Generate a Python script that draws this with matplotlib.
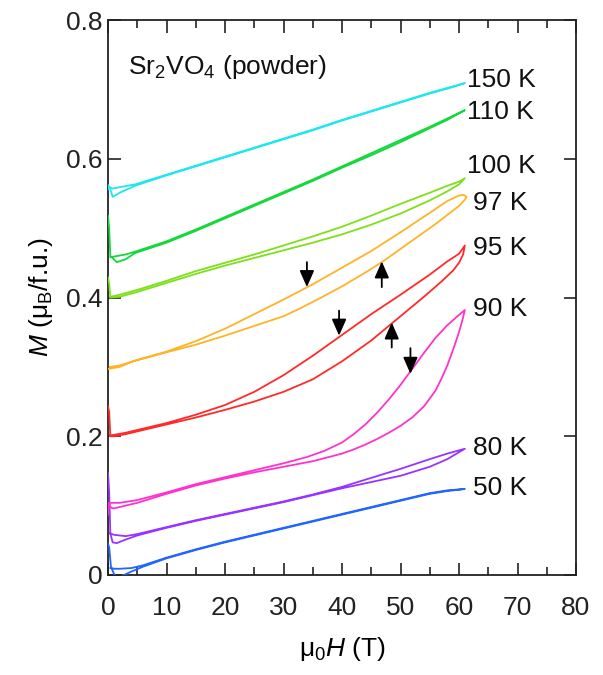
import matplotlib
matplotlib.use("Agg")
import matplotlib.pyplot as plt

plt.rcParams['font.family'] = ['Liberation Sans', 'DejaVu Sans']
plt.rcParams['mathtext.fontset'] = 'custom'
plt.rcParams['mathtext.rm'] = 'Liberation Sans'
plt.rcParams['mathtext.it'] = 'Liberation Sans:italic'

# ---------------- data ----------------
H_up_50 = [0, 0.2, 0.5, 1.0, 1.5, 2.5, 4, 6, 10, 15, 20, 25, 30, 35, 40, 45, 50, 55, 58, 61]
M_up_50 = [0.045, 0.040, 0.012, 0.002, -0.003, -0.001, 0.005, 0.012, 0.024, 0.036, 0.047, 0.057, 0.067, 0.077, 0.087, 0.097, 0.107, 0.117, 0.121, 0.124]
H_dn_50 = [61, 58, 55, 50, 45, 40, 35, 30, 25, 20, 15, 10, 6, 4, 2, 1, 0.4]
M_dn_50 = [0.124, 0.122, 0.118, 0.108, 0.098, 0.088, 0.078, 0.068, 0.058, 0.048, 0.037, 0.025, 0.014, 0.010, 0.009, 0.009, 0.010]

H_up_80 = [0, 0.2, 0.4, 0.8, 1.5, 3, 5, 10, 15, 20, 25, 30, 35, 40, 45, 50, 55, 58, 61]
M_up_80 = [0.147, 0.120, 0.060, 0.047, 0.046, 0.051, 0.057, 0.068, 0.078, 0.087, 0.096, 0.105, 0.115, 0.125, 0.134, 0.143, 0.156, 0.167, 0.182]
H_dn_80 = [61, 58, 55, 50, 45, 40, 35, 30, 25, 20, 15, 10, 5, 3, 1, 0.3]
M_dn_80 = [0.182, 0.175, 0.167, 0.153, 0.140, 0.127, 0.116, 0.106, 0.097, 0.088, 0.079, 0.069, 0.059, 0.056, 0.058, 0.060]

H_up_90 = [0, 0.15, 0.5, 1, 3, 5, 10, 15, 20, 25, 30, 35, 40, 42, 44, 46, 48, 50, 52, 54, 56, 57, 58, 59, 60, 60.6, 61]
M_up_90 = [0.087, 0.104, 0.097, 0.096, 0.100, 0.104, 0.117, 0.129, 0.139, 0.148, 0.156, 0.164, 0.175, 0.181, 0.188, 0.196, 0.205, 0.215, 0.227, 0.243, 0.266, 0.283, 0.302, 0.325, 0.350, 0.368, 0.382]
H_dn_90 = [61, 60, 58, 56, 54, 52, 50, 48, 46, 44, 42, 40, 37, 34, 30, 25, 20, 15, 10, 5, 2, 0.3]
M_dn_90 = [0.382, 0.375, 0.360, 0.342, 0.320, 0.297, 0.274, 0.253, 0.234, 0.217, 0.203, 0.191, 0.179, 0.170, 0.161, 0.151, 0.141, 0.131, 0.119, 0.108, 0.104, 0.104]

H_up_95 = [0, 0.2, 0.4, 1, 3, 5, 10, 15, 20, 25, 30, 35, 40, 45, 48, 51, 54, 57, 59, 60, 60.7, 61]
M_up_95 = [0.243, 0.235, 0.200, 0.200, 0.203, 0.207, 0.217, 0.227, 0.238, 0.250, 0.264, 0.282, 0.308, 0.338, 0.359, 0.380, 0.401, 0.423, 0.439, 0.450, 0.462, 0.475]
H_dn_95 = [61, 60, 58, 55, 50, 45, 40, 35, 30, 25, 20, 15, 10, 5, 3, 1, 0.3]
M_dn_95 = [0.475, 0.463, 0.452, 0.433, 0.404, 0.376, 0.346, 0.316, 0.288, 0.264, 0.245, 0.231, 0.219, 0.209, 0.205, 0.202, 0.201]

H_up_97 = [0, 2, 4.3, 10, 15, 20, 25, 30, 33, 36, 40, 44, 47, 50, 53, 56, 58, 60, 61]
M_up_97 = [0.297, 0.300, 0.308, 0.321, 0.332, 0.345, 0.359, 0.373, 0.385, 0.398, 0.416, 0.436, 0.452, 0.470, 0.488, 0.506, 0.519, 0.532, 0.541]
H_dn_97 = [61, 61.3, 60.8, 60, 58, 55, 50, 45, 40, 35, 30, 25, 20, 15, 10, 5, 2, 0.3]
M_dn_97 = [0.541, 0.545, 0.548, 0.547, 0.539, 0.522, 0.494, 0.467, 0.443, 0.419, 0.397, 0.376, 0.355, 0.337, 0.322, 0.310, 0.302, 0.300]

H_up_100 = [0, 0.2, 0.4, 2, 5, 10, 15, 20, 25, 30, 35, 40, 45, 50, 55, 58, 60, 61]
M_up_100 = [0.429, 0.420, 0.400, 0.401, 0.408, 0.421, 0.434, 0.446, 0.457, 0.468, 0.479, 0.491, 0.505, 0.521, 0.540, 0.553, 0.563, 0.572]
H_dn_100 = [61, 60, 58, 55, 50, 45, 40, 35, 30, 25, 20, 15, 10, 5, 2, 0.4]
M_dn_100 = [0.572, 0.567, 0.561, 0.551, 0.535, 0.518, 0.502, 0.488, 0.475, 0.462, 0.450, 0.438, 0.424, 0.411, 0.404, 0.401]

H_up_110 = [0, 0.2, 0.4, 1.5, 3, 4.6, 10, 15, 20, 25, 30, 35, 40, 45, 50, 55, 58, 61]
M_up_110 = [0.518, 0.500, 0.460, 0.451, 0.455, 0.464, 0.479, 0.496, 0.514, 0.532, 0.550, 0.568, 0.587, 0.605, 0.624, 0.644, 0.656, 0.670]
H_dn_110 = [61, 58, 55, 50, 45, 40, 35, 30, 25, 20, 15, 10, 4.6, 3, 1, 0.4]
M_dn_110 = [0.670, 0.658, 0.646, 0.627, 0.608, 0.589, 0.570, 0.552, 0.534, 0.516, 0.498, 0.481, 0.466, 0.462, 0.459, 0.458]

H_up_150 = [0, 0.4, 0.8, 2, 4.6, 10, 15, 20, 25, 30, 35, 40, 45, 50, 55, 58, 61]
M_up_150 = [0.562, 0.556, 0.545, 0.551, 0.561, 0.576, 0.589, 0.602, 0.615, 0.628, 0.641, 0.655, 0.668, 0.681, 0.694, 0.701, 0.709]
H_dn_150 = [61, 58, 55, 50, 45, 40, 35, 30, 25, 20, 15, 10, 4.6, 2, 0.8, 0.3, 0]
M_dn_150 = [0.709, 0.702, 0.695, 0.682, 0.669, 0.656, 0.642, 0.629, 0.616, 0.603, 0.590, 0.577, 0.563, 0.559, 0.557, 0.559, 0.556]

temperatures = ["50 K", "80 K", "90 K", "95 K", "97 K", "100 K", "110 K", "150 K"]
colors = ["#2266ff", "#9933ff", "#ff33cc", "#ff2a2a", "#ffb326", "#7ee01a", "#14d83c", "#20e6f0"]
label_H = [62.4, 62.4, 62.4, 62.4, 62.4, 61.4, 61.4, 61.4]
label_M = [0.125, 0.183, 0.384, 0.472, 0.536, 0.590, 0.668, 0.714]

# arrows: (H, M tail, M tip)
arrow_H = [34.0, 46.8, 39.5, 48.5, 51.7]
arrow_tail = [0.451, 0.415, 0.381, 0.328, 0.327]
arrow_tip = [0.415, 0.452, 0.345, 0.364, 0.290]

x_ticks = [0, 10, 20, 30, 40, 50, 60, 70, 80]
y_ticks = [0, 0.2, 0.4, 0.6, 0.8]
y_ticklabels = ["0", "0.2", "0.4", "0.6", "0.8"]

branches = [
    (H_up_50, M_up_50, H_dn_50, M_dn_50),
    (H_up_80, M_up_80, H_dn_80, M_dn_80),
    (H_up_90, M_up_90, H_dn_90, M_dn_90),
    (H_up_95, M_up_95, H_dn_95, M_dn_95),
    (H_up_97, M_up_97, H_dn_97, M_dn_97),
    (H_up_100, M_up_100, H_dn_100, M_dn_100),
    (H_up_110, M_up_110, H_dn_110, M_dn_110),
    (H_up_150, M_up_150, H_dn_150, M_dn_150),
]

# ---------------- figure ----------------
fig = plt.figure(figsize=(6.03, 6.75), dpi=100)
ax = fig.add_axes([108 / 603, 1 - 575 / 675, (576 - 108) / 603, (575 - 20) / 675])

for (hu, mu, hd, md), c in zip(branches, colors):
    ax.plot(hu + hd, mu + md, color=c, lw=1.3, solid_joinstyle='round', zorder=3)

for t, c, lh, lm in zip(temperatures, colors, label_H, label_M):
    ax.text(lh, lm, t, fontsize=19, va='center', ha='left', color='#111111')

for h, m0, m1 in zip(arrow_H, arrow_tail, arrow_tip):
    ax.annotate('', xy=(h, m1), xytext=(h, m0),
                arrowprops=dict(arrowstyle='-|>,head_length=0.5,head_width=0.22',
                                mutation_scale=20, color='black', lw=1.3,
                                shrinkA=0, shrinkB=0), zorder=5)

ax.text(3.4, 0.732, r'Sr$_2$VO$_4$ (powder)', fontsize=19, va='center', ha='left', color='#111111')

ax.set_xlim(0, 80)
ax.set_ylim(0, 0.8)
ax.set_xticks(x_ticks)
ax.set_xticks([5, 15, 25, 35, 45, 55, 65, 75], minor=True)
ax.set_yticks(y_ticks)
ax.set_yticklabels(y_ticklabels)
ax.tick_params(which='both', direction='in', top=True, right=True, labelsize=19, width=1.2, colors='#222222')
ax.tick_params(which='major', length=9)
ax.tick_params(which='minor', length=5.5)
ax.tick_params(axis='x', pad=15)
ax.tick_params(axis='y', pad=4)
for s in ax.spines.values():
    s.set_linewidth(1.3)
    s.set_color('#222222')

ax.set_xlabel(r'$\mathrm{\mu}_0\mathit{H}$ (T)', fontsize=19, labelpad=11)
ax.set_ylabel(r'$\mathit{M}$ (μ$_\mathrm{B}$/f.u.)', fontsize=19, labelpad=8)

fig.savefig('out.png', dpi=100)
